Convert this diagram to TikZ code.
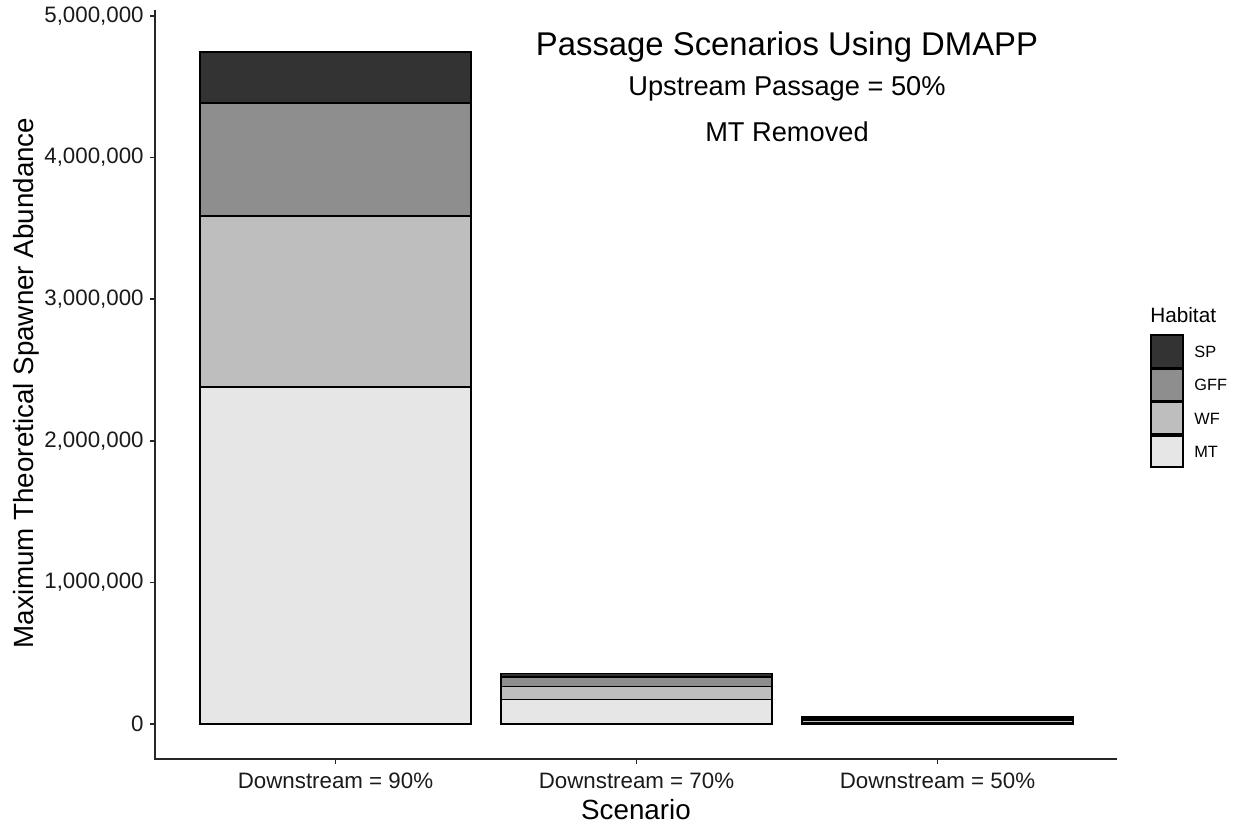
\documentclass[tikz,border=0pt]{standalone}
\usepackage{fontspec}
\setmainfont{Liberation Sans}
\definecolor{spfill}{HTML}{333333}
\definecolor{gfffill}{HTML}{8E8E8E}
\definecolor{wffill}{HTML}{BEBEBE}
\definecolor{mtfill}{HTML}{E6E6E6}
\definecolor{ticktext}{HTML}{1A1A1A}
\begin{document}
\begin{tikzpicture}[x=0.02cm,y=-0.02cm,
    bar/.style={draw=black,line width=0.6pt},
    axisline/.style={draw=black!85,line width=0.8pt},
    ticklab/.style={inner sep=0pt,text=ticktext,font=\fontsize{12.7}{14}\selectfont},
    axlab/.style={inner sep=0pt,font=\fontsize{15.8}{18}\selectfont},
    keylab/.style={inner sep=0pt,anchor=west,font=\fontsize{9.3}{11}\selectfont}]
    \useasboundingbox (0,0) rectangle (1238,824);
    % axes
    \coordinate (origin) at (155,759);
    \coordinate (ytop) at (155,10);
    \coordinate (xend) at (1117,759);
    \draw[axisline] (ytop) -- (origin) -- (xend);
    % y ticks
    \foreach \val/\lab in {0/0,1/{1,000,000},2/{2,000,000},3/{3,000,000},4/{4,000,000},5/{5,000,000}}{
        \draw[axisline] (150,724-141.6*\val) -- (155,724-141.6*\val);
        \node[ticklab,anchor=east] (ytick\val) at (144,724-141.6*\val) {\lab};
    }
    % x ticks
    \foreach \cx/\pct in {335.5/90,636.5/70,937.5/50}{
        \draw[axisline] (\cx,759) -- (\cx,764);
        \node[ticklab] (xtick\pct) at (\cx,781) {Downstream = \pct\%};
    }
    % bars: MT, WF, GFF, SP
    \draw[bar,fill=mtfill] (200,724) rectangle (471,387);
    \draw[bar,fill=wffill] (200,387) rectangle (471,216);
    \draw[bar,fill=gfffill] (200,216) rectangle (471,103);
    \draw[bar,fill=spfill] (200,103) rectangle (471,52);
    \draw[bar,fill=mtfill] (501,724) rectangle (772,699.5);
    \draw[bar,fill=wffill] (501,699.5) rectangle (772,686.5);
    \draw[bar,fill=gfffill] (501,686.5) rectangle (772,677);
    \draw[bar,fill=spfill] (501,677) rectangle (772,673.5);
    \draw[bar,fill=mtfill] (802,724) rectangle (1073,722.5);
    \draw[bar,fill=wffill] (802,722.5) rectangle (1073,720);
    \draw[bar,fill=gfffill] (802,720) rectangle (1073,718);
    \draw[bar,fill=spfill] (802,718) rectangle (1073,716.5);
    % titles
    \node[inner sep=0pt,font=\fontsize{18.7}{22}\selectfont] (title) at (787,47) {Passage Scenarios Using DMAPP};
    \node[inner sep=0pt,font=\fontsize{15.5}{18}\selectfont] (sub1) at (787,89) {Upstream Passage = 50\%};
    \node[inner sep=0pt,font=\fontsize{15.5}{18}\selectfont] (sub2) at (787,132) {MT Removed};
    \node[axlab,rotate=90] (ylab) at (26,383) {Maximum Theoretical Spawner Abundance};
    \node[axlab] (xlab) at (636,810) {Scenario};
    % legend
    \node[inner sep=0pt,anchor=west,font=\fontsize{11.8}{14}\selectfont] (legtitle) at (1150,315) {Habitat};
    \draw[bar,fill=spfill] (1151,335) rectangle (1183,368);
    \draw[bar,fill=gfffill] (1151,369) rectangle (1183,401);
    \draw[bar,fill=wffill] (1151,402) rectangle (1183,434);
    \draw[bar,fill=mtfill] (1151,436) rectangle (1183,467);
    \node[keylab] (keysp) at (1194,352) {SP};
    \node[keylab] (keygff) at (1194,385) {GFF};
    \node[keylab] (keywf) at (1194,419) {WF};
    \node[keylab] (keymt) at (1194,452) {MT};
\end{tikzpicture}
\end{document}
